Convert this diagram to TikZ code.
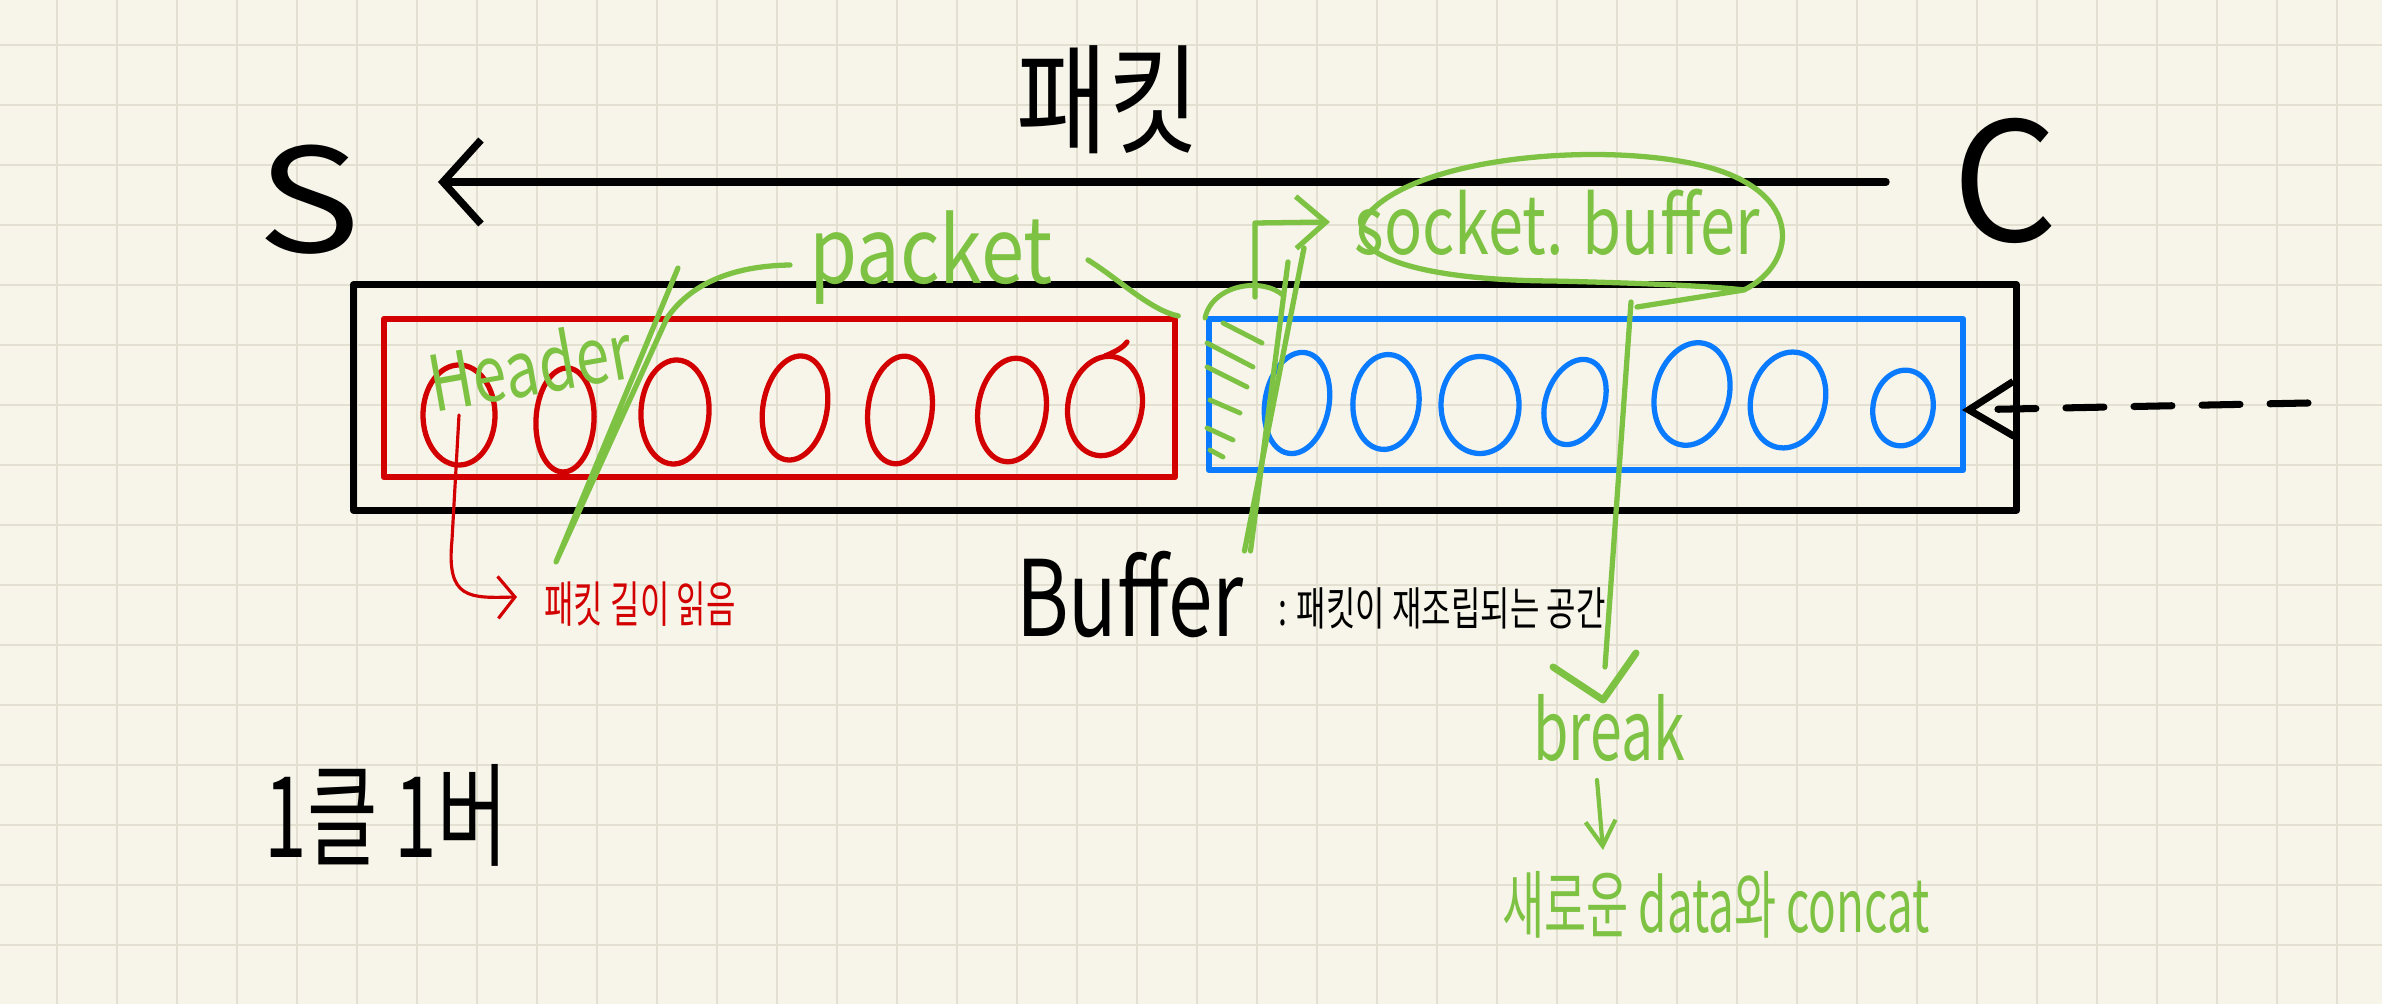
\documentclass[tikz,border=0pt]{standalone}
\usepackage{fontspec}
\usepackage{graphicx}
\usetikzlibrary{arrows.meta,shapes.geometric}
\newfontfamily\krf{Noto Sans CJK KR}
\definecolor{paper}{HTML}{F7F5E9}
\definecolor{gridc}{HTML}{E3E0D2}
\definecolor{pred}{HTML}{D20000}
\definecolor{pblue}{HTML}{0A7BFF}
\definecolor{pgreen}{HTML}{7DC242}
\newcommand{\setfs}[1]{\fontsize{#1}{#1}\selectfont}
\begin{document}
\begin{tikzpicture}[x=0.01cm,y=-0.01cm,line cap=round,line join=round,
  gridline/.style={gridc,line width=0.7pt},
  txt/.style={inner sep=0pt,font=\krf},
  redoval/.style={ellipse,draw=pred,line width=1.5pt,inner sep=0pt},
  blueoval/.style={ellipse,draw=pblue,line width=1.5pt,inner sep=0pt},
  gstroke/.style={pgreen,line width=1.5pt},
  hatchline/.style={pgreen,line width=1.4pt},
  outerbox/.style={draw=black,line width=2pt,inner sep=0pt},
  redbox/.style={draw=pred,line width=1.7pt,inner sep=0pt},
  bluebox/.style={draw=pblue,line width=1.7pt,inner sep=0pt},
]
\useasboundingbox (0,0) rectangle (2382,1004);
\fill[paper] (0,0) rectangle (2382,1004);
\foreach \x in {57,117,...,2337} \draw[gridline] (\x,0) -- (\x,1004);
\foreach \y in {45,105,...,945} \draw[gridline] (0,\y) -- (2382,\y);

% boxes
\node[outerbox,minimum width=16.62cm,minimum height=2.25cm] (outer) at (1185,397.5) {};
\node[redbox,minimum width=7.91cm,minimum height=1.58cm] (rbox) at (779.5,398) {};
\node[bluebox,minimum width=7.54cm,minimum height=1.51cm] (bbox) at (1586,394.5) {};

% red ovals
\node[redoval,minimum width=0.72cm,minimum height=1.0cm] (r1) at (459,415) {};
\node[redoval,minimum width=0.58cm,minimum height=1.04cm,rotate=-3] (r2) at (565,420) {};
\node[redoval,minimum width=0.68cm,minimum height=1.04cm,rotate=-3] (r3) at (675,412) {};
\node[redoval,minimum width=0.64cm,minimum height=1.05cm,rotate=-10] (r4) at (795,408) {};
\node[redoval,minimum width=0.64cm,minimum height=1.08cm,rotate=-7] (r5) at (900,410) {};
\node[redoval,minimum width=0.68cm,minimum height=1.04cm,rotate=-8] (r6) at (1012,410) {};
\node[redoval,minimum width=0.74cm,minimum height=1.0cm,rotate=-10] (r7) at (1105,406) {};
\draw[pred,line width=1.5pt] (1105,356) .. controls (1120,350) and (1125,345) .. (1127,342);

% blue ovals
\node[blueoval,minimum width=0.64cm,minimum height=1.02cm,rotate=-10] (b1) at (1297,403) {};
\node[blueoval,minimum width=0.66cm,minimum height=0.95cm,rotate=-5] (b2) at (1386,402) {};
\node[blueoval,minimum width=0.78cm,minimum height=0.97cm] (b3) at (1480,405) {};
\node[blueoval,minimum width=0.58cm,minimum height=0.88cm,rotate=-20] (b4) at (1575,402) {};
\node[blueoval,minimum width=0.74cm,minimum height=1.04cm,rotate=-14] (b5) at (1692,394) {};
\node[blueoval,minimum width=0.74cm,minimum height=0.97cm,rotate=-14] (b6) at (1788,400) {};
\node[blueoval,minimum width=0.6cm,minimum height=0.76cm,rotate=-10] (b7) at (1903,408) {};

% texts
\node[txt,font=\krf\setfs{34}] (title) at (1108,100) {\scalebox{0.83}[1]{패킷}};
\node[txt,font=\krf\setfs{41}] (S) at (309,200) {\scalebox{1.2}[1]{S}};
\node[txt,font=\krf\setfs{47}] (C) at (2005,181) {C};
\node[txt,font=\krf\setfs{22},text=pgreen,rotate=10] (header) at (530,365) {\scalebox{0.78}[1]{Header}};
\node[txt,font=\krf\setfs{26},text=pgreen] (packet) at (931,258) {\scalebox{0.85}[1]{packet}};
\node[txt,font=\krf\setfs{23},text=pgreen] (sockbuf) at (1557,222) {\scalebox{0.78}[1]{socket. buffer}};
\node[txt,font=\krf\setfs{14},text=pred] (hdrlen) at (640,604) {\scalebox{0.65}[1]{패킷 길이 읽음}};
\node[txt,font=\krf\setfs{30}] (buffer) at (1130,595) {\scalebox{0.76}[1]{Buffer}};
\node[txt,font=\krf\setfs{13}] (bufdesc) at (1442,608) {\scalebox{0.7}[1]{: 패킷이 재조립되는 공간}};
\node[txt,font=\krf\setfs{23.6},text=pgreen] (brk) at (1609,728) {\scalebox{0.69}[1]{break}};
\node[txt,font=\krf\setfs{21},text=pgreen] (newdata) at (1716,905) {\scalebox{0.62}[1]{새로운 data와 concat}};
\node[txt,font=\krf\setfs{32}] (onecb) at (386,815) {\scalebox{0.68}[1]{1클 1버}};

% main arrow S <- C
\coordinate (arrR) at (1886,182);
\coordinate (arrL) at (438,182);
\draw[line width=2.1pt,-{Straight Barb[length=0.38cm,width=0.84cm]}] (arrR) -- (arrL);

% dashed arrow into the buffer
\coordinate (dashR) at (2308,403);
\coordinate (dashL) at (1962,410);
\draw[line width=2pt,dash pattern=on 0.38cm off 0.3cm,-{Straight Barb[length=0.45cm,width=0.55cm]}] (dashR) -- (dashL);

% red: header -> length read
\draw[pred,line width=0.9pt,-{Straight Barb[length=0.17cm,width=0.42cm]}]
  (r1.center) -- (452,540) .. controls (446,600) and (470,598) .. (517,597);

% hatch on the blue box
\draw[hatchline] (1205,318) .. controls (1212,285) and (1262,276) .. (1284,296);
\draw[hatchline] (1223,323) -- (1262,343);
\draw[hatchline] (1207,343) -- (1253,367);
\draw[hatchline] (1207,367) -- (1247,387);
\draw[hatchline] (1210,400) -- (1240,413);
\draw[hatchline] (1207,428) -- (1233,440);
\draw[hatchline] (1210,450) -- (1223,457);

% green: header / packet brace
\coordinate (slTop) at (678,268);
\coordinate (slBot) at (556,562);
\coordinate (slBack) at (667,318);
\coordinate (pkL) at (790,265);
\draw[gstroke] (slTop) -- (slBot) -- (slBack) .. controls (690,285) and (730,266) .. (pkL);
\coordinate (pkR) at (1088,260);
\draw[gstroke] (pkR) .. controls (1120,280) and (1150,310) .. (rbox.north east);

% green: Buffer -> socket buffer
\coordinate (bfTop) at (1304,248);
\coordinate (bfTop2) at (1288,262);
\draw[gstroke] (buffer.north east) -- (bfTop);
\draw[gstroke] (bfTop2) -- ([xshift=0.06cm]buffer.north east);
\coordinate (hkBot) at (1255,297);
\coordinate (hkTop) at (1255,223);
\coordinate (hkTip) at (1330,222);
\draw[gstroke,-{Straight Barb[length=0.3cm,width=0.52cm]}] (hkBot) -- (hkTop) -- (hkTip);

% green loop around socket.buffer
\coordinate (lpStart) at (1637,307);
\coordinate (lpCorner) at (1744,290);
\draw[gstroke] (lpStart) -- (lpCorner) .. controls (1800,262) and (1805,185) .. (1690,163)
  .. controls (1590,143) and (1420,158) .. (1370,212)
  .. controls (1335,252) and (1410,280) .. (1552,281)
  .. controls (1640,283) and (1710,286) .. (lpCorner);

% green: down to break
\coordinate (dnTop) at (1631,302);
\coordinate (dnEnd) at (1605,667);
\draw[gstroke] (dnTop) -- (dnEnd);
\coordinate (vL) at (1553,667);
\coordinate (vTip) at (1603,700);
\coordinate (vR) at (1636,653);
\draw[gstroke,line width=2pt] (vL) -- (vTip) -- (vR);

% green: break -> new data
\coordinate (bkA) at (1597,780);
\coordinate (bkB) at (1603,850);
\draw[gstroke,line width=1.2pt,-{Straight Barb[length=0.25cm,width=0.3cm]}] (bkA) -- (bkB);
\end{tikzpicture}
\end{document}
